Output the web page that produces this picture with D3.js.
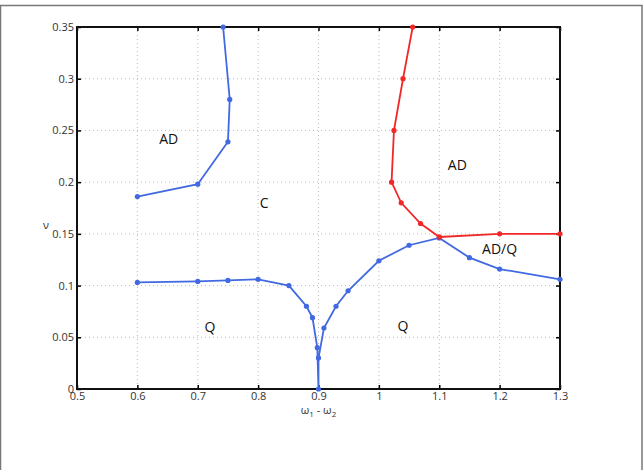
<!DOCTYPE html>
<html><head><meta charset="utf-8">
<script src="https://cdn.jsdelivr.net/npm/d3@7"></script>
<style>body{margin:0;background:#fff}svg{display:block}</style>
</head><body><svg id="c" width="644" height="470"></svg>
<script>
// Data
const xTicks = [0.5,0.6,0.7,0.8,0.9,1.0,1.1,1.2,1.3];
const yTicks = [0,0.05,0.1,0.15,0.2,0.25,0.3,0.35];
const blueUpperX = [0.6,0.7,0.75,0.753,0.742];
const blueUpperY = [0.186,0.198,0.239,0.280,0.35];
const blueLowerX = [0.6,0.7,0.75,0.8,0.851,0.88,0.89,0.898,0.9,0.9,0.909,0.929,0.949,1.0,1.05,1.1,1.15,1.2,1.3];
const blueLowerY = [0.103,0.104,0.105,0.106,0.100,0.080,0.069,0.040,0.0,0.030,0.059,0.080,0.095,0.124,0.139,0.146,0.127,0.116,0.106];
const redX = [1.056,1.040,1.025,1.021,1.037,1.069,1.1,1.2,1.3];
const redY = [0.35,0.30,0.25,0.20,0.18,0.16,0.147,0.150,0.150];
const regionLabels = ["AD","C","Q","Q","AD","AD/Q"];
const regionX = [0.652,0.81,0.72,1.04,1.13,1.2];
const regionY = [0.242,0.180,0.060,0.061,0.217,0.136];

const svg = d3.select("#c");
const L=77, R=560, T=27, B=389;
const x = d3.scaleLinear().domain([0.5,1.3]).range([L,R]);
const y = d3.scaleLinear().domain([0,0.35]).range([B,T]);

// outer frame
svg.append("rect").attr("x",0.5).attr("y",5.5).attr("width",641.5).attr("height",470)
  .attr("fill","none").attr("stroke","#777").attr("stroke-width",1.5);

// grid
const g = svg.append("g");
g.selectAll(".gx").data(xTicks.slice(1,-1)).join("line")
  .attr("x1",d=>x(d)).attr("x2",d=>x(d)).attr("y1",T).attr("y2",B)
  .attr("stroke","#bbb").attr("stroke-width",1).attr("stroke-dasharray","1,3");
g.selectAll(".gy").data(yTicks.slice(1,-1)).join("line")
  .attr("y1",d=>y(d)).attr("y2",d=>y(d)).attr("x1",L).attr("x2",R)
  .attr("stroke","#bbb").attr("stroke-width",1).attr("stroke-dasharray","1,3");

// axes
const fmt = d=> d3.format("")(+d.toFixed(2));
svg.append("g").attr("transform",`translate(0,${B})`)
  .call(d3.axisBottom(x).tickValues(xTicks).tickSize(-4).tickPadding(3).tickFormat(fmt))
  .call(a=>a.select(".domain").remove());
svg.append("g").attr("transform",`translate(0,${T})`)
  .call(d3.axisTop(x).tickValues(xTicks).tickSize(-4).tickFormat(""))
  .call(a=>a.select(".domain").remove());
svg.append("g").attr("transform",`translate(${L},0)`)
  .call(d3.axisLeft(y).tickValues(yTicks).tickSize(-4).tickPadding(3).tickFormat(fmt))
  .call(a=>a.select(".domain").remove());
svg.append("g").attr("transform",`translate(${R},0)`)
  .call(d3.axisRight(y).tickValues(yTicks).tickSize(-4).tickFormat(""))
  .call(a=>a.select(".domain").remove());
svg.selectAll(".tick line").attr("stroke","#000").attr("stroke-width",1.5);
svg.selectAll(".tick text").attr("font-family","Open Sans, sans-serif").attr("font-size",11).attr("fill","#333");

svg.append("rect").attr("x",L).attr("y",T).attr("width",R-L).attr("height",B-T)
  .attr("fill","none").attr("stroke","#111").attr("stroke-width",2);

// lines
function series(xs, ys, color){
  const pts = xs.map((v,i)=>[v,ys[i]]);
  svg.append("path").datum(pts)
    .attr("d", d3.line().x(d=>x(d[0])).y(d=>y(d[1])))
    .attr("fill","none").attr("stroke",color).attr("stroke-width",1.8);
  svg.append("g").selectAll("circle").data(pts).join("circle")
    .attr("cx",d=>x(d[0])).attr("cy",d=>y(d[1])).attr("r",2.6).attr("fill",color);
}
series(blueUpperX, blueUpperY, "#4169e1");
series(blueLowerX, blueLowerY, "#4169e1");
series(redX, redY, "#f02828");

// region labels
svg.append("g").selectAll("text").data(regionLabels).join("text")
  .attr("x",(d,i)=>x(regionX[i])).attr("y",(d,i)=>y(regionY[i]))
  .attr("text-anchor","middle").attr("dominant-baseline","central")
  .attr("font-family","Open Sans, sans-serif").attr("font-size",14).attr("fill","#111")
  .text(d=>d);

// axis titles
const xt = svg.append("text").attr("x",(L+R)/2).attr("y",414).attr("text-anchor","middle")
  .attr("font-family","Open Sans, sans-serif").attr("font-size",11).attr("fill","#333");
xt.append("tspan").text("ω");
xt.append("tspan").attr("font-size",8).attr("dy",3).text("1");
xt.append("tspan").attr("dy",-3).text(" - ω");
xt.append("tspan").attr("font-size",8).attr("dy",3).text("2");
svg.append("text").attr("x",46).attr("y",229).attr("text-anchor","middle")
  .attr("font-family","Open Sans, sans-serif").attr("font-size",11).attr("fill","#333").text("ν");
</script></body></html>
